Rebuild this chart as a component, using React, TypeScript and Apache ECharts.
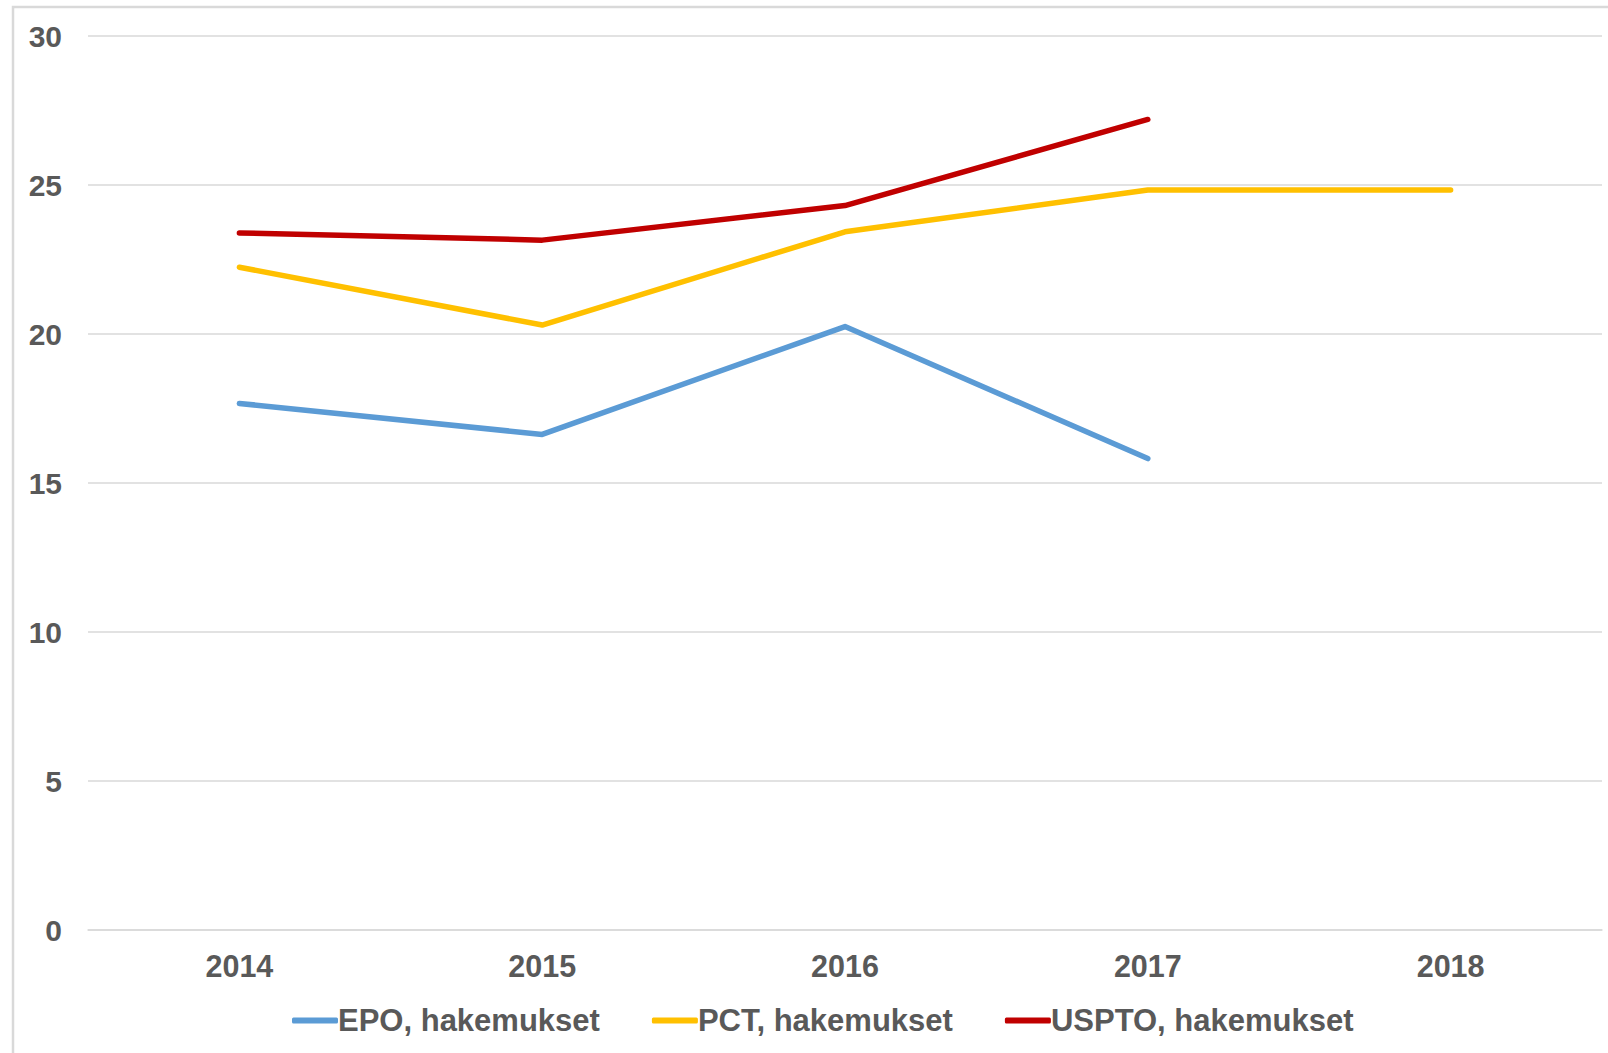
import React, { useEffect, useRef } from "react";
import * as echarts from "echarts";

const years = ["2014", "2015", "2016", "2017", "2018"];
const epo = [17.67, 16.63, 20.25, 15.82, null];
const pct = [22.24, 20.3, 23.43, 24.83, 24.83];
const uspto = [23.39, 23.15, 24.31, 27.2, null];
const seriesNames = ["EPO, hakemukset", "PCT, hakemukset", "USPTO, hakemukset"];
const colors = ["#5B9BD5", "#FFC000", "#C00000"];

const FONT = "'Liberation Sans', Arial, sans-serif";
const TXT = "#595959";

export default function App() {
  const ref = useRef<HTMLDivElement>(null);
  useEffect(() => {
    if (!ref.current) return;
    const chart = echarts.init(ref.current, undefined, { renderer: "svg" });
    const data = [epo, pct, uspto];
    chart.setOption({
      animation: false,
      backgroundColor: "#ffffff",
      textStyle: { fontFamily: FONT },
      grid: { left: 88, right: 6, top: 36, bottom: 123, containLabel: false },
      graphic: [
        {
          type: "rect",
          shape: { x: 13, y: 7, width: 1700, height: 1200 },
          style: { fill: "none", stroke: "#d9d9d9", lineWidth: 2.5 },
          silent: true,
          z: -1,
        },
      ],
      xAxis: {
        type: "category",
        data: years,
        boundaryGap: true,
        axisLine: { show: true, lineStyle: { color: "#d9d9d9", width: 1.5 } },
        axisTick: { show: false },
        axisLabel: {
          color: TXT,
          fontSize: 30.5,
          fontWeight: "bold",
          fontFamily: FONT,
          margin: 20,
        },
      },
      yAxis: {
        type: "value",
        min: 0,
        max: 30,
        interval: 5,
        axisLine: { show: false },
        axisTick: { show: false },
        splitLine: { show: true, lineStyle: { color: "#d9d9d9", width: 1.5 } },
        axisLabel: {
          color: TXT,
          fontSize: 30,
          fontWeight: "bold",
          fontFamily: FONT,
          margin: 26,
        },
      },
      legend: {
        left: 287,
        top: 1000,
        icon: "roundRect",
        itemWidth: 46,
        itemHeight: 6,
        itemGap: 52,
        textStyle: {
          color: TXT,
          fontSize: 31,
          fontWeight: "bold",
          fontFamily: FONT,
          padding: [0, 0, 0, -5],
        },
        data: seriesNames,
      },
      series: seriesNames.map((name, i) => ({
        name,
        type: "line",
        data: data[i],
        showSymbol: false,
        symbol: "none",
        connectNulls: false,
        lineStyle: { color: colors[i], width: 5.5, cap: "round", join: "round" },
        itemStyle: { color: colors[i] },
      })),
    });
    return () => chart.dispose();
  }, []);
  return (
    <div
      ref={ref}
      style={{ position: "fixed", left: 0, top: 0, width: 1608, height: 1053 }}
    />
  );
}
